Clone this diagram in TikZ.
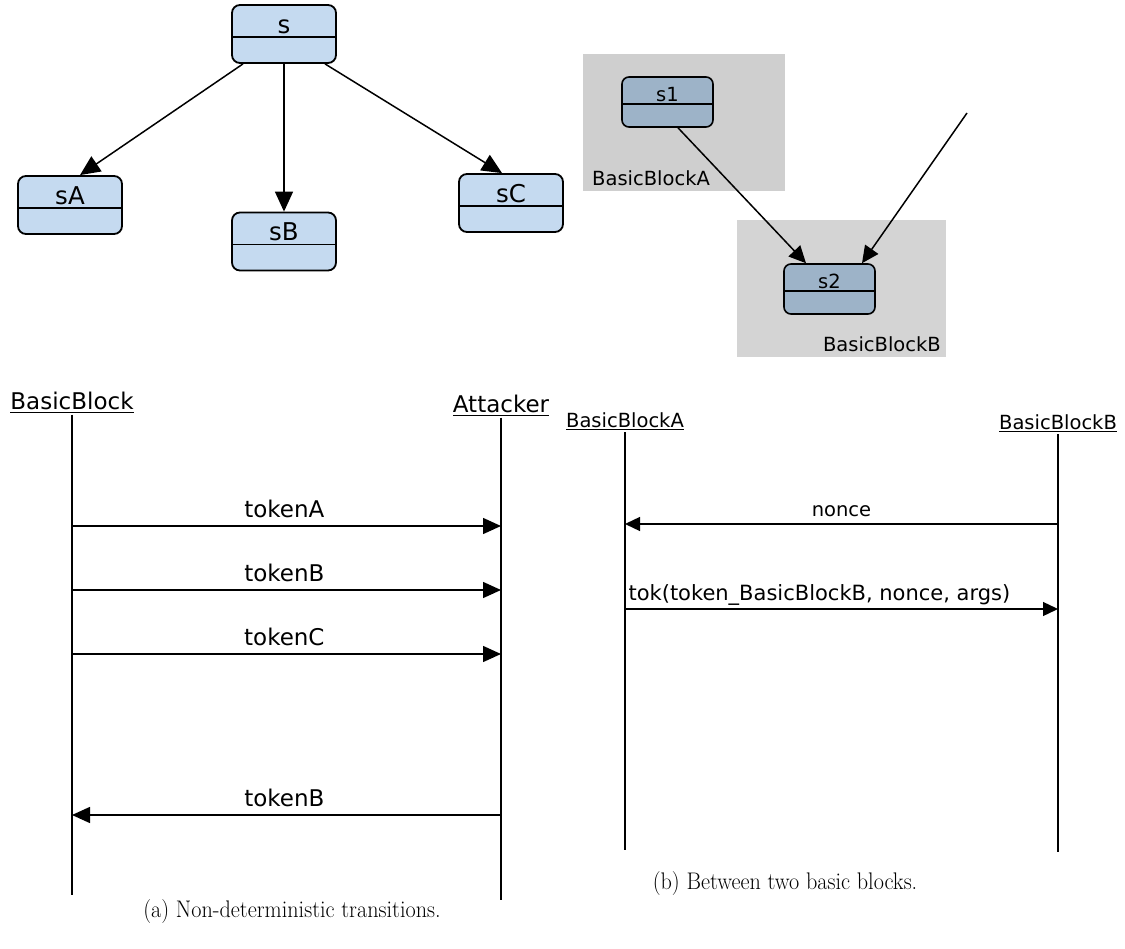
\documentclass[tikz,border=0pt]{standalone}
\usepackage{fontspec}
\newfontfamily\dv{DejaVu Sans}
\usetikzlibrary{arrows.meta}
\definecolor{lblue}{RGB}{197,218,240}
\definecolor{dblue}{RGB}{157,179,200}
\definecolor{grayA}{RGB}{207,207,207}
\definecolor{grayB}{RGB}{212,212,212}
\begin{document}
\begin{tikzpicture}[x=1pt,y=-1pt,
  lstate/.style={draw, line width=1.8pt, rounded corners=8pt, fill=lblue,
    minimum width=104pt, minimum height=58pt, inner sep=0pt},
  rstate/.style={draw, line width=1.6pt, rounded corners=7pt, fill=dblue,
    minimum width=91pt, minimum height=50pt, inner sep=0pt},
  stxt/.style={font=\dv\fontsize{24.5}{28}\selectfont, inner sep=0pt},
  ltxt/.style={font=\dv\fontsize{23}{27}\selectfont, inner sep=0pt},
  rtxt/.style={font=\dv\fontsize{19.5}{23}\selectfont, inner sep=0pt},
  larrow/.style={line width=1.5pt, -{Triangle[length=20pt,width=18pt]}},
  rarrow/.style={line width=1.5pt, -{Triangle[length=17pt,width=16pt]}},
  lmsg/.style={line width=1.5pt, -{Triangle[length=18pt,width=16pt]}},
  rmsg/.style={line width=1.3pt, -{Triangle[length=15pt,width=14pt]}},
  lifeline/.style={line width=1.5pt},
  divider/.style={line width=1.5pt},
  cluster/.style={inner sep=0pt, anchor=north west},
  caption/.style={font=\fontsize{24}{28}\selectfont, inner sep=0pt, xscale=0.925}
]
\useasboundingbox (0,0) rectangle (1125,949);

% ---------- state tree ----------
\node[lstate] (s)  at (284,34)  {};
\node[lstate] (sA) at (70,205)  {};
\node[lstate] (sB) at (284,241.5) {};
\node[lstate] (sC) at (511,203) {};
\foreach \n/\t in {s/s, sA/sA, sB/sB, sC/sC}{
  \draw[divider] ([shift={(0.9pt,-33pt)}]\n.north west) -- ([shift={(-0.9pt,-33pt)}]\n.north east);
  \node[stxt, anchor=base] (\n-t) at ([yshift=-29pt]\n.north) {\t};
}
\draw[larrow] ([xshift=-41pt]s.south) -- ([xshift=10pt]sA.north);
\draw[larrow] (s.south) -- (sB.north);
\draw[larrow] ([xshift=41pt]s.south) -- ([xshift=-9pt]sC.north);

% ---------- basic blocks ----------
\node[cluster, fill=grayA, minimum width=202pt, minimum height=137pt] (blkA) at (583,54) {};
\node[cluster, fill=grayB, minimum width=209pt, minimum height=137pt] (blkB) at (737,220) {};
\node[rtxt, anchor=base west] (blkA-t) at (592,186) {BasicBlockA};
\node[rtxt, anchor=base east] (blkB-t) at (941,352) {BasicBlockB};
\node[rstate] (s1) at (667.5,102) {};
\node[rstate] (s2) at (829.5,289) {};
\foreach \n/\t in {s1/s1, s2/s2}{
  \draw[divider] ([shift={(0.8pt,-28pt)}]\n.north west) -- ([shift={(-0.8pt,-28pt)}]\n.north east);
  \node[rtxt, anchor=base] (\n-t) at ([yshift=-25pt]\n.north) {\t};
}
\coordinate (ext) at (967,113);
\draw[rarrow] ([xshift=10.5pt]s1.south) -- ([xshift=-23.5pt]s2.north);
\draw[rarrow] (ext) -- ([xshift=32.5pt]s2.north);

% ---------- sequence: basic block and attacker ----------
\node[ltxt, anchor=base] (bb) at (72,410) {\underline{BasicBlock}};
\node[ltxt, anchor=base] (at) at (501,413) {\underline{Attacker}};
\coordinate (bbEnd) at (72,895);
\coordinate (atEnd) at (501,900);
\draw[lifeline] ([yshift=-2pt]bb.south) -- (bbEnd);
\draw[lifeline] ([yshift=-2pt]at.south) -- (atEnd);
\foreach \y/\t in {526/tokenA, 590/tokenB, 654/tokenC}{
  \coordinate (m) at (0,\y);
  \draw[lmsg] (bb |- m) -- (at |- m) node[ltxt, pos=0.495, anchor=base, yshift=9pt] {\t};
}
\coordinate (m4) at (0,815);
\draw[lmsg] (at |- m4) -- (bb |- m4) node[ltxt, pos=0.505, anchor=base, yshift=9pt] {tokenB};
\node[caption] (capA) at (292,912) {(a) Non-deterministic transitions.};

% ---------- sequence: two basic blocks ----------
\node[rtxt, anchor=base] (ba) at (625,428) {\underline{BasicBlockA}};
\node[rtxt, anchor=base] (bbB) at (1058,430) {\underline{BasicBlockB}};
\coordinate (baEnd) at (625,850);
\coordinate (bbBEnd) at (1058,852);
\draw[lifeline] ([yshift=-2pt]ba.south) -- (baEnd);
\draw[lifeline] ([yshift=-2pt]bbB.south) -- (bbBEnd);
\coordinate (n1) at (0,524);
\coordinate (n2) at (0,609);
\draw[rmsg] (bbB |- n1) -- (ba |- n1) node[rtxt, midway, anchor=base, yshift=8pt] {nonce};
\draw[rmsg] (ba |- n2) -- (bbB |- n2) node[font=\dv\fontsize{21}{25}\selectfont, inner sep=0pt, pos=0.449, anchor=base, yshift=9pt] {tok(token\_BasicBlockB, nonce, args)};
\node[caption] (capB) at (785,884) {(b) Between two basic blocks.};
\end{tikzpicture}
\end{document}
